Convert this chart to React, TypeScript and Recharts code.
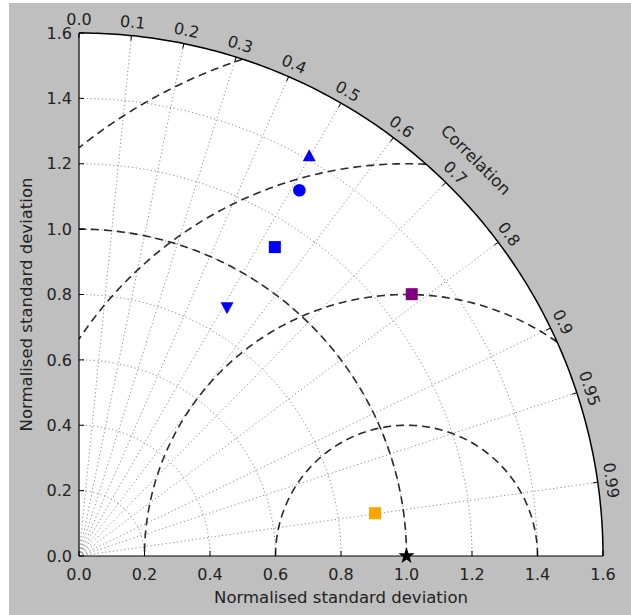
import React from "react";
import { ComposedChart, Area, Line, Scatter, XAxis, YAxis, Label } from "recharts";

const W = 631;
const H = 615;
const RMAX = 1.6;

// axis ticks and grid
const stdTicks = [0, 0.2, 0.4, 0.6, 0.8, 1.0, 1.2, 1.4, 1.6];
const stdGrid = [0.2, 0.4, 0.6, 0.8, 1.0, 1.2, 1.4];
const corrTicks = [0.0, 0.1, 0.2, 0.3, 0.4, 0.5, 0.6, 0.7, 0.8, 0.9, 0.95, 0.99];
const rmsRadii = [0.4, 0.8, 1.2, 1.6];
const refStd = 1.0;

// reference point and models (normalised std)
const refX = [1.0];
const refY = [0.0];
const blueX = [0.703, 0.673, 0.598, 0.452];
const blueY = [1.223, 1.119, 0.945, 0.761];
const purpleX = [1.016];
const purpleY = [0.801];
const orangeX = [0.904];
const orangeY = [0.131];

const FONT = "DejaVu Sans";
const TXT = "#222";

const clamp = (v: number) => Math.max(0, Math.min(RMAX, v));
const pts = (xs: number[], ys: number[]) => xs.map((x, i) => ({ x, y: ys[i] }));

// arc around (cx, 0) with radius r between two angles
const arc = (cx: number, r: number, a0: number, a1: number, n = 160) =>
  Array.from({ length: n + 1 }, (_, i) => {
    const a = a0 + ((a1 - a0) * i) / n;
    return { x: clamp(cx + r * Math.cos(a)), y: clamp(r * Math.sin(a)) };
  });

const disk = arc(0, RMAX, Math.PI / 2, 0, 180);
const outer = arc(0, RMAX, 0, Math.PI / 2, 180);
const stdArcs = stdGrid.map((r) => arc(0, r, 0, Math.PI / 2, 90));
const refArc = arc(0, refStd, 0, Math.PI / 2, 120);
const rays = corrTicks
  .filter((c) => c > 0)
  .map((c) => [
    { x: 0, y: 0 },
    { x: clamp(RMAX * c), y: clamp(RMAX * Math.sqrt(1 - c * c)) },
  ]);
const rmsArcs = rmsRadii.map((r) => {
  const xi = (RMAX * RMAX + 1 - r * r) / 2; // crossing with outer circle
  const a0 = xi < 1 + r ? Math.acos((xi - 1) / r) : 0;
  const a1 = r > 1 ? Math.acos(-1 / r) : Math.PI;
  return arc(1, r, a0, a1);
});
const corrLabels = corrTicks.map((c) => ({
  x: clamp(RMAX * c),
  y: clamp(RMAX * Math.sqrt(1 - c * c)),
  c,
}));
const corrTitle = [{ x: RMAX * Math.SQRT1_2, y: RMAX * Math.SQRT1_2, c: Math.SQRT1_2 }];

const CorrTick = (p: any) => {
  const th = Math.acos(p.payload.c);
  const ux = Math.cos(th);
  const uy = -Math.sin(th);
  const rot = 90 - (th * 180) / Math.PI;
  const lx = p.cx + 13.5 * ux;
  const ly = p.cy + 13.5 * uy;
  const lab = p.payload.c === 0 ? "0.0" : String(p.payload.c);
  return (
    <g>
      <line x1={p.cx} y1={p.cy} x2={p.cx - 5 * ux} y2={p.cy - 5 * uy} stroke="#000" strokeWidth={1} />
      <text
        x={lx}
        y={ly}
        transform={`rotate(${rot} ${lx} ${ly})`}
        textAnchor="middle"
        dominantBaseline="central"
        fontSize={16}
        fontFamily={FONT}
        fill={TXT}
      >
        {lab}
      </text>
    </g>
  );
};

const CorrTitle = (p: any) => {
  const lx = p.cx + 37 * Math.SQRT1_2;
  const ly = p.cy - 37 * Math.SQRT1_2;
  return (
    <text
      x={lx}
      y={ly}
      transform={`rotate(45 ${lx} ${ly})`}
      textAnchor="middle"
      dominantBaseline="central"
      fontSize={16.5}
      fontFamily={FONT}
      fill={TXT}
    >
      Correlation
    </text>
  );
};

const Square = (color: string) => (p: any) =>
  <rect x={p.cx - 6} y={p.cy - 6} width={12} height={12} fill={color} />;

const BlueMarker = (p: any) => {
  const { cx, cy, index } = p;
  const c = "#0000ff";
  if (index === 0)
    return <polygon points={`${cx},${cy - 7} ${cx - 6.5},${cy + 5} ${cx + 6.5},${cy + 5}`} fill={c} />;
  if (index === 1) return <circle cx={cx} cy={cy} r={6.3} fill={c} />;
  if (index === 2) return <rect x={cx - 6} y={cy - 6} width={12} height={12} fill={c} />;
  return <polygon points={`${cx},${cy + 7} ${cx - 6.5},${cy - 5} ${cx + 6.5},${cy - 5}`} fill={c} />;
};

const Star = (p: any) => {
  const ro = 8.5;
  const ri = 3.4;
  const s = Array.from({ length: 10 }, (_, i) => {
    const a = -Math.PI / 2 + (i * Math.PI) / 5;
    const r = i % 2 === 0 ? ro : ri;
    return `${p.cx + r * Math.cos(a)},${p.cy + r * Math.sin(a)}`;
  }).join(" ");
  return <polygon points={s} fill="#000" />;
};

const dotted = { stroke: "#8c8c8c", strokeWidth: 1, strokeDasharray: "1.2 2.6" };
const dashed = { stroke: "#2a2a2a", strokeWidth: 1.6, strokeDasharray: "8 5" };

const YTitle = (props: any) => {
  const vb = props.viewBox || { x: 0, y: 33, width: 79, height: 523 };
  const x = vb.x + 26;
  const y = vb.y + vb.height / 2 + 10;
  return (
    <text
      x={x}
      y={y}
      transform={`rotate(-90 ${x} ${y})`}
      textAnchor="middle"
      dominantBaseline="central"
      fontSize={16.5}
      fontFamily={FONT}
      fill={TXT}
    >
      Normalised standard deviation
    </text>
  );
};

export default function App() {
  return (
    <div style={{ position: "relative", width: W, height: H, background: "#fff" }}>
      <style>{"body{margin:0}"}</style>
      <div style={{ position: "absolute", left: 9, top: 3, right: 0, bottom: 0, background: "#bfbfbf" }} />
      <div style={{ position: "absolute", left: 0, top: 0 }}>
        <ComposedChart width={W} height={H} margin={{ top: 33, right: 28, bottom: 0, left: 0 }}>
          <XAxis
            type="number"
            dataKey="x"
            domain={[0, RMAX]}
            ticks={stdTicks}
            tickFormatter={(v: number) => v.toFixed(1)}
            height={59}
            tickSize={-5}
            tickMargin={18}
            tick={{ fontSize: 16, fill: TXT, fontFamily: FONT }}
            axisLine={{ stroke: "#000", strokeWidth: 1.2 }}
            tickLine={{ stroke: "#000" }}
            label={{
              value: "Normalised standard deviation",
              position: "insideBottom",
              offset: 12,
              fill: TXT,
              fontSize: 16.5,
              fontFamily: FONT,
            }}
          />
          <YAxis
            type="number"
            dataKey="y"
            domain={[0, RMAX]}
            ticks={stdTicks}
            tickFormatter={(v: number) => v.toFixed(1)}
            width={79}
            tickSize={-5}
            tickMargin={12}
            tick={{ fontSize: 16, fill: TXT, fontFamily: FONT }}
            axisLine={{ stroke: "#000", strokeWidth: 1.2 }}
            tickLine={{ stroke: "#000" }}
          >
            <Label content={YTitle} />
          </YAxis>
          <Area
            data={disk}
            dataKey="y"
            type="linear"
            baseValue={0}
            fill="#fff"
            fillOpacity={1}
            stroke="none"
            isAnimationActive={false}
            activeDot={false}
          />
          {stdArcs.map((d, i) => (
            <Line key={`s${i}`} data={d} dataKey="y" type="linear" dot={false} activeDot={false} {...dotted} isAnimationActive={false} />
          ))}
          {rays.map((d, i) => (
            <Line key={`r${i}`} data={d} dataKey="y" type="linear" dot={false} activeDot={false} {...dotted} isAnimationActive={false} />
          ))}
          {rmsArcs.map((d, i) => (
            <Line key={`m${i}`} data={d} dataKey="y" type="linear" dot={false} activeDot={false} {...dashed} isAnimationActive={false} />
          ))}
          <Line data={refArc} dataKey="y" type="linear" dot={false} activeDot={false} {...dashed} isAnimationActive={false} />
          <Line data={outer} dataKey="y" type="linear" dot={false} activeDot={false} stroke="#000" strokeWidth={1.5} isAnimationActive={false} />
          <Scatter data={corrLabels} shape={CorrTick} isAnimationActive={false} />
          <Scatter data={corrTitle} shape={CorrTitle} isAnimationActive={false} />
          <Scatter data={pts(orangeX, orangeY)} shape={Square("#ffa500")} isAnimationActive={false} />
          <Scatter data={pts(purpleX, purpleY)} shape={Square("#800080")} isAnimationActive={false} />
          <Scatter data={pts(blueX, blueY)} shape={BlueMarker} isAnimationActive={false} />
          <Scatter data={pts(refX, refY)} shape={Star} isAnimationActive={false} />
        </ComposedChart>
      </div>
    </div>
  );
}
